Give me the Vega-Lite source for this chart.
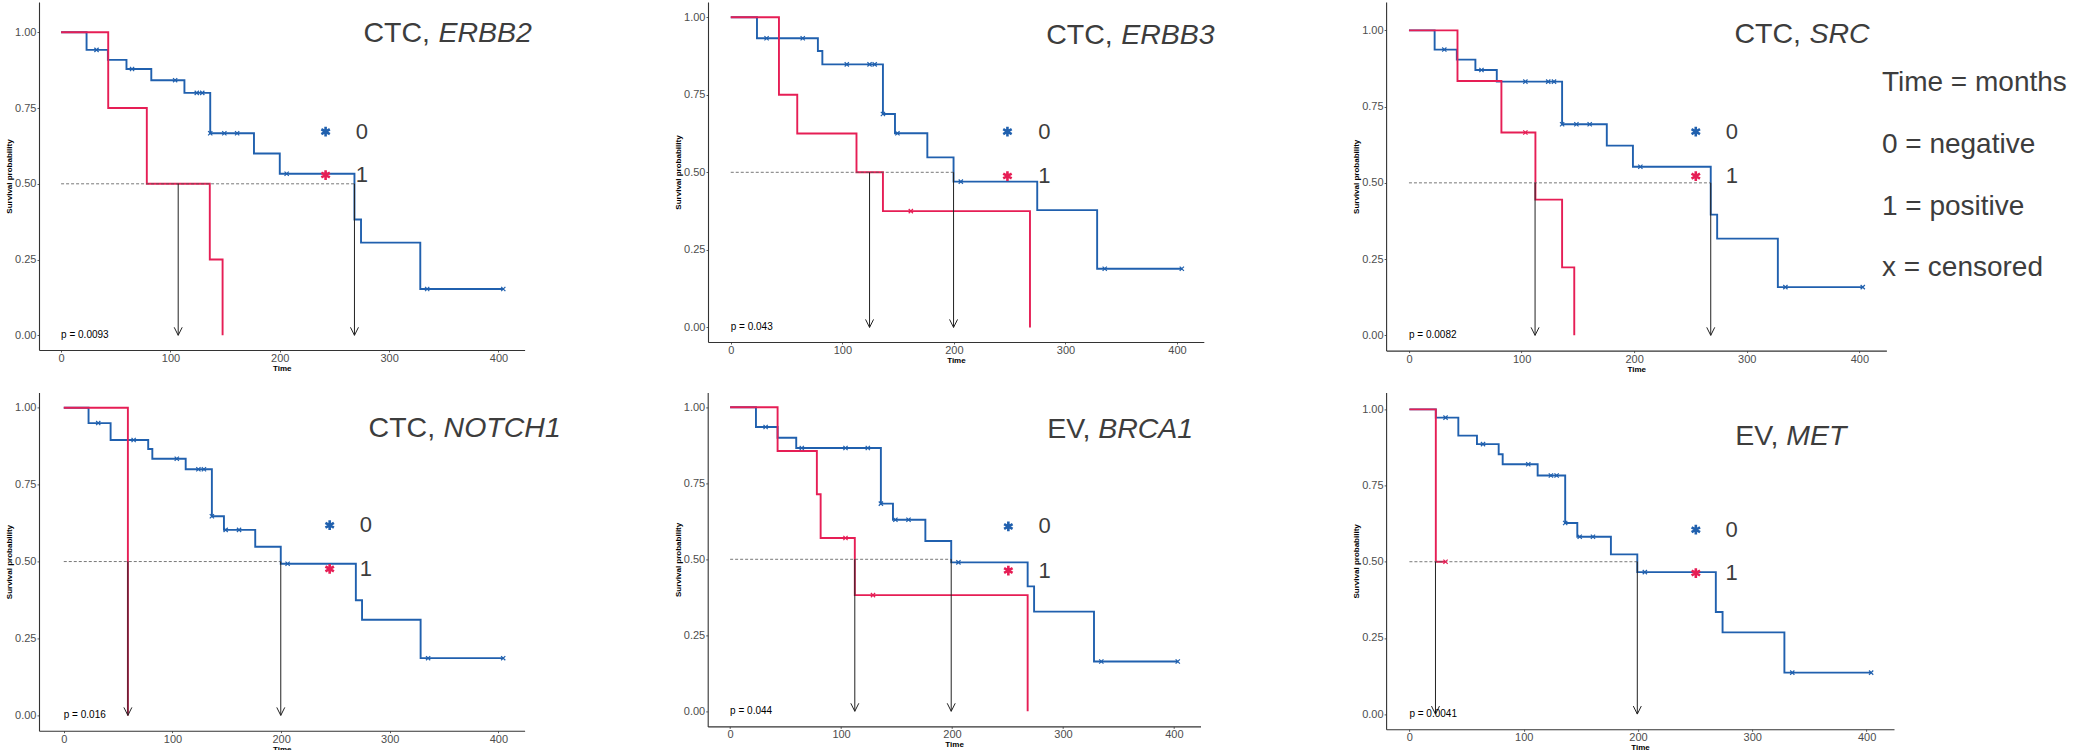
{
  "$schema": "https://vega.github.io/schema/vega-lite/v6.json",
  "autosize": {"type": "pad"},
  "padding": {"left": 5, "top": 2, "right": 0, "bottom": 0},
  "background": "white",
  "config": {
    "view": {"stroke": null},
    "font": "Liberation Sans",
    "axis": {"grid": false, "domainColor": "#333333", "domainWidth": 1.1, "tickColor": "#333333", "tickSize": 2, "tickWidth": 0.8, "labelColor": "#4d4d4d", "labelFont": "Liberation Sans", "labelFontSize": 11, "labelPadding": 1, "titleFont": "Liberation Sans", "titleFontSize": 8, "titleFontWeight": "bold", "titleColor": "#000000", "titlePadding": 1},
    "axisX": {"labelPadding": 0.5},
    "text": {"font": "Liberation Sans"}
  },
  "datasets": {
    "km": [
      {"p":"ERBB2","g":"0","t":0,"s":1},{"p":"ERBB2","g":"0","t":23.3,"s":0.942},{"p":"ERBB2","g":"0","t":42.8,"s":0.909},{"p":"ERBB2","g":"0","t":59.8,"s":0.879},{"p":"ERBB2","g":"0","t":82.5,"s":0.842},{"p":"ERBB2","g":"0","t":112.8,"s":0.8},{"p":"ERBB2","g":"0","t":136.4,"s":0.667},{"p":"ERBB2","g":"0","t":176.4,"s":0.6},{"p":"ERBB2","g":"0","t":200,"s":0.533},{"p":"ERBB2","g":"0","t":268.3,"s":0.382},{"p":"ERBB2","g":"0","t":274.3,"s":0.306},{"p":"ERBB2","g":"0","t":328.5,"s":0.153},{"p":"ERBB2","g":"0","t":404.4,"s":0.153},
      {"p":"ERBB2","g":"1","t":0,"s":1},{"p":"ERBB2","g":"1","t":43.1,"s":0.75},{"p":"ERBB2","g":"1","t":78.4,"s":0.5},{"p":"ERBB2","g":"1","t":136,"s":0.25},{"p":"ERBB2","g":"1","t":147.7,"s":0},
      {"p":"ERBB3","g":"0","t":0,"s":1},{"p":"ERBB3","g":"0","t":23.5,"s":0.932},{"p":"ERBB3","g":"0","t":78.1,"s":0.891},{"p":"ERBB3","g":"0","t":82.1,"s":0.848},{"p":"ERBB3","g":"0","t":136.4,"s":0.688},{"p":"ERBB3","g":"0","t":147.2,"s":0.626},{"p":"ERBB3","g":"0","t":176.2,"s":0.548},{"p":"ERBB3","g":"0","t":199.7,"s":0.47},{"p":"ERBB3","g":"0","t":274.7,"s":0.378},{"p":"ERBB3","g":"0","t":328.4,"s":0.189},{"p":"ERBB3","g":"0","t":404.3,"s":0.189},
      {"p":"ERBB3","g":"1","t":0,"s":1},{"p":"ERBB3","g":"1","t":43.2,"s":0.75},{"p":"ERBB3","g":"1","t":59.6,"s":0.625},{"p":"ERBB3","g":"1","t":112.7,"s":0.5},{"p":"ERBB3","g":"1","t":136.4,"s":0.375},{"p":"ERBB3","g":"1","t":268.2,"s":0},
      {"p":"SRC","g":"0","t":0,"s":1},{"p":"SRC","g":"0","t":22.8,"s":0.937},{"p":"SRC","g":"0","t":42.5,"s":0.904},{"p":"SRC","g":"0","t":59,"s":0.87},{"p":"SRC","g":"0","t":78,"s":0.832},{"p":"SRC","g":"0","t":136,"s":0.692},{"p":"SRC","g":"0","t":175.7,"s":0.622},{"p":"SRC","g":"0","t":198.9,"s":0.553},{"p":"SRC","g":"0","t":268,"s":0.396},{"p":"SRC","g":"0","t":273.7,"s":0.317},{"p":"SRC","g":"0","t":327.6,"s":0.158},{"p":"SRC","g":"0","t":403,"s":0.158},
      {"p":"SRC","g":"1","t":0,"s":1},{"p":"SRC","g":"1","t":43.1,"s":0.834},{"p":"SRC","g":"1","t":82.1,"s":0.665},{"p":"SRC","g":"1","t":112.3,"s":0.445},{"p":"SRC","g":"1","t":136,"s":0.223},{"p":"SRC","g":"1","t":146.8,"s":0},
      {"p":"NOTCH1","g":"0","t":0,"s":1},{"p":"NOTCH1","g":"0","t":22.8,"s":0.95},{"p":"NOTCH1","g":"0","t":43.1,"s":0.895},{"p":"NOTCH1","g":"0","t":77.7,"s":0.866},{"p":"NOTCH1","g":"0","t":81.5,"s":0.834},{"p":"NOTCH1","g":"0","t":112.2,"s":0.8},{"p":"NOTCH1","g":"0","t":136.3,"s":0.647},{"p":"NOTCH1","g":"0","t":147.4,"s":0.603},{"p":"NOTCH1","g":"0","t":176.2,"s":0.548},{"p":"NOTCH1","g":"0","t":199.7,"s":0.493},{"p":"NOTCH1","g":"0","t":268.8,"s":0.374},{"p":"NOTCH1","g":"0","t":274.5,"s":0.311},{"p":"NOTCH1","g":"0","t":328.4,"s":0.186},{"p":"NOTCH1","g":"0","t":404.4,"s":0.186},
      {"p":"NOTCH1","g":"1","t":0,"s":1},{"p":"NOTCH1","g":"1","t":59,"s":0},
      {"p":"BRCA1","g":"0","t":0,"s":1},{"p":"BRCA1","g":"0","t":23.3,"s":0.935},{"p":"BRCA1","g":"0","t":42.8,"s":0.9},{"p":"BRCA1","g":"0","t":59.6,"s":0.866},{"p":"BRCA1","g":"0","t":135.9,"s":0.683},{"p":"BRCA1","g":"0","t":146.8,"s":0.63},{"p":"BRCA1","g":"0","t":176,"s":0.56},{"p":"BRCA1","g":"0","t":199.3,"s":0.49},{"p":"BRCA1","g":"0","t":268.2,"s":0.411},{"p":"BRCA1","g":"0","t":274,"s":0.328},{"p":"BRCA1","g":"0","t":328,"s":0.164},{"p":"BRCA1","g":"0","t":403.5,"s":0.164},
      {"p":"BRCA1","g":"1","t":0,"s":1},{"p":"BRCA1","g":"1","t":42.8,"s":0.856},{"p":"BRCA1","g":"1","t":78.2,"s":0.714},{"p":"BRCA1","g":"1","t":81.6,"s":0.57},{"p":"BRCA1","g":"1","t":112.4,"s":0.382},{"p":"BRCA1","g":"1","t":268.2,"s":0},
      {"p":"MET","g":"0","t":0,"s":1},{"p":"MET","g":"0","t":23.1,"s":0.973},{"p":"MET","g":"0","t":42.8,"s":0.914},{"p":"MET","g":"0","t":59.1,"s":0.886},{"p":"MET","g":"0","t":78.1,"s":0.853},{"p":"MET","g":"0","t":81.6,"s":0.82},{"p":"MET","g":"0","t":112.2,"s":0.783},{"p":"MET","g":"0","t":136.3,"s":0.627},{"p":"MET","g":"0","t":146.9,"s":0.582},{"p":"MET","g":"0","t":176.3,"s":0.524},{"p":"MET","g":"0","t":199.4,"s":0.466},{"p":"MET","g":"0","t":268.1,"s":0.335},{"p":"MET","g":"0","t":274,"s":0.268},{"p":"MET","g":"0","t":328.1,"s":0.136},{"p":"MET","g":"0","t":404,"s":0.136},
      {"p":"MET","g":"1","t":0,"s":1},{"p":"MET","g":"1","t":23.1,"s":0.5},{"p":"MET","g":"1","t":31.6,"s":0.5}
    ],
    "cens": [
      {"p":"ERBB2","g":"0","t":32.4,"s":0.942},{"p":"ERBB2","g":"0","t":64.9,"s":0.879},{"p":"ERBB2","g":"0","t":104.3,"s":0.842},{"p":"ERBB2","g":"0","t":124.1,"s":0.8},{"p":"ERBB2","g":"0","t":129.1,"s":0.8},{"p":"ERBB2","g":"0","t":136.4,"s":0.667},{"p":"ERBB2","g":"0","t":149.3,"s":0.667},{"p":"ERBB2","g":"0","t":161,"s":0.667},{"p":"ERBB2","g":"0","t":206.3,"s":0.533},{"p":"ERBB2","g":"0","t":334.8,"s":0.153},{"p":"ERBB2","g":"0","t":404.4,"s":0.153},
      {"p":"ERBB3","g":"0","t":32.1,"s":0.932},{"p":"ERBB3","g":"0","t":64.5,"s":0.932},{"p":"ERBB3","g":"0","t":104,"s":0.848},{"p":"ERBB3","g":"0","t":124.4,"s":0.848},{"p":"ERBB3","g":"0","t":129,"s":0.848},{"p":"ERBB3","g":"0","t":136.4,"s":0.688},{"p":"ERBB3","g":"0","t":149.4,"s":0.626},{"p":"ERBB3","g":"0","t":206.2,"s":0.47},{"p":"ERBB3","g":"0","t":335.2,"s":0.189},{"p":"ERBB3","g":"0","t":404.3,"s":0.189},{"p":"ERBB3","g":"1","t":161.4,"s":0.375},
      {"p":"SRC","g":"0","t":31.4,"s":0.937},{"p":"SRC","g":"0","t":64.4,"s":0.87},{"p":"SRC","g":"0","t":103.4,"s":0.832},{"p":"SRC","g":"0","t":123.7,"s":0.832},{"p":"SRC","g":"0","t":128.8,"s":0.832},{"p":"SRC","g":"0","t":136,"s":0.692},{"p":"SRC","g":"0","t":148.7,"s":0.692},{"p":"SRC","g":"0","t":160.5,"s":0.692},{"p":"SRC","g":"0","t":205.5,"s":0.553},{"p":"SRC","g":"0","t":334.3,"s":0.158},{"p":"SRC","g":"0","t":403,"s":0.158},{"p":"SRC","g":"1","t":103.4,"s":0.665},
      {"p":"NOTCH1","g":"0","t":31.7,"s":0.95},{"p":"NOTCH1","g":"0","t":64.3,"s":0.895},{"p":"NOTCH1","g":"0","t":104,"s":0.834},{"p":"NOTCH1","g":"0","t":123.9,"s":0.8},{"p":"NOTCH1","g":"0","t":129,"s":0.8},{"p":"NOTCH1","g":"0","t":136.3,"s":0.647},{"p":"NOTCH1","g":"0","t":149,"s":0.603},{"p":"NOTCH1","g":"0","t":161.3,"s":0.603},{"p":"NOTCH1","g":"0","t":206,"s":0.493},{"p":"NOTCH1","g":"0","t":335.3,"s":0.186},{"p":"NOTCH1","g":"0","t":404.4,"s":0.186},
      {"p":"BRCA1","g":"0","t":32,"s":0.935},{"p":"BRCA1","g":"0","t":64.6,"s":0.866},{"p":"BRCA1","g":"0","t":104,"s":0.866},{"p":"BRCA1","g":"0","t":124.1,"s":0.866},{"p":"BRCA1","g":"0","t":135.9,"s":0.683},{"p":"BRCA1","g":"0","t":149,"s":0.63},{"p":"BRCA1","g":"0","t":160.8,"s":0.63},{"p":"BRCA1","g":"0","t":205.8,"s":0.49},{"p":"BRCA1","g":"0","t":334.6,"s":0.164},{"p":"BRCA1","g":"0","t":403.5,"s":0.164},{"p":"BRCA1","g":"1","t":104,"s":0.57},{"p":"BRCA1","g":"1","t":128.8,"s":0.382},
      {"p":"MET","g":"0","t":31.6,"s":0.973},{"p":"MET","g":"0","t":64.4,"s":0.886},{"p":"MET","g":"0","t":104,"s":0.82},{"p":"MET","g":"0","t":123.8,"s":0.783},{"p":"MET","g":"0","t":128.8,"s":0.783},{"p":"MET","g":"0","t":136.3,"s":0.627},{"p":"MET","g":"0","t":149,"s":0.582},{"p":"MET","g":"0","t":160.6,"s":0.582},{"p":"MET","g":"0","t":206,"s":0.466},{"p":"MET","g":"0","t":335,"s":0.136},{"p":"MET","g":"0","t":404,"s":0.136},{"p":"MET","g":"1","t":31.6,"s":0.5}
    ],
    "med": [
      {"p":"ERBB2","g":"1","t0":0,"t":107.1,"s":0.5,"s0":0},{"p":"ERBB2","g":"0","t0":0,"t":268.3,"s":0.5,"s0":0},
      {"p":"ERBB3","g":"1","t0":0,"t":124.4,"s":0.5,"s0":0},{"p":"ERBB3","g":"0","t0":0,"t":199.7,"s":0.5,"s0":0},
      {"p":"SRC","g":"1","t0":0,"t":112,"s":0.5,"s0":0},{"p":"SRC","g":"0","t0":0,"t":268,"s":0.5,"s0":0},
      {"p":"NOTCH1","g":"1","t0":0,"t":59,"s":0.5,"s0":0},{"p":"NOTCH1","g":"0","t0":0,"t":199.7,"s":0.5,"s0":0},
      {"p":"BRCA1","g":"1","t0":0,"t":112.4,"s":0.5,"s0":0},{"p":"BRCA1","g":"0","t0":0,"t":199.3,"s":0.5,"s0":0},
      {"p":"MET","g":"1","t0":0,"t":22.8,"s":0.5,"s0":0},{"p":"MET","g":"0","t0":0,"t":199.4,"s":0.5,"s0":0}
    ],
    "leg": [
      {"p":"ERBB2","g":"0","t":241.9,"lt":275,"s":0.672},{"p":"ERBB2","g":"1","t":241.9,"lt":275,"s":0.529},
      {"p":"ERBB3","g":"0","t":248,"lt":281,"s":0.631},{"p":"ERBB3","g":"1","t":248,"lt":281,"s":0.488},
      {"p":"SRC","g":"0","t":254.7,"lt":286.7,"s":0.668},{"p":"SRC","g":"1","t":254.7,"lt":286.7,"s":0.522},
      {"p":"NOTCH1","g":"0","t":244.7,"lt":278,"s":0.618},{"p":"NOTCH1","g":"1","t":244.7,"lt":278,"s":0.476},
      {"p":"BRCA1","g":"0","t":250.8,"lt":283.4,"s":0.608},{"p":"BRCA1","g":"1","t":250.8,"lt":283.4,"s":0.463},
      {"p":"MET","g":"0","t":250.6,"lt":282,"s":0.605},{"p":"MET","g":"1","t":250.6,"lt":282,"s":0.463}
    ],
    "info": [
      {"p":"ERBB2","prefix":"CTC,","gene":"ERBB2","t":276.5,"s":0.997,"pt":0,"ps":0,"pval":"p = 0.0093"},
      {"p":"ERBB3","prefix":"CTC,","gene":"ERBB3","t":282.7,"s":0.943,"pt":0,"ps":0,"pval":"p = 0.043"},
      {"p":"SRC","prefix":"CTC,","gene":"SRC","t":289,"s":0.987,"pt":0,"ps":0,"pval":"p = 0.0082"},
      {"p":"NOTCH1","prefix":"CTC,","gene":"NOTCH1","t":280.5,"s":0.934,"pt":0,"ps":0,"pval":"p = 0.016"},
      {"p":"BRCA1","prefix":"EV,","gene":"BRCA1","t":285.8,"s":0.929,"pt":0,"ps":0,"pval":"p = 0.044"},
      {"p":"MET","prefix":"EV,","gene":"MET","t":285,"s":0.914,"pt":0,"ps":0,"pval":"p = 0.0041"}
    ],
    "notes": [
      {"p":"SRC","line":"Time = months","t":420,"s":0.828},
      {"p":"SRC","line":"0 = negative","t":420,"s":0.624},
      {"p":"SRC","line":"1 = positive","t":420,"s":0.422},
      {"p":"SRC","line":"x = censored","t":420,"s":0.221}
    ]
  },
  "spacing": 18.4,
  "bounds": "full",
  "vconcat": [
    {
      "spacing": 183,
      "bounds": "flush",
      "hconcat": [
        {
          "width": 485.6, "height": 348,
          "layer": [
            {"data": {"name": "km"}, "transform": [{"filter": "datum.p == 'ERBB2'"}], "mark": {"type": "line", "interpolate": "step-after", "strokeWidth": 1.9}, "encoding": {"x": {"field": "t", "type": "quantitative", "title": "Time", "scale": {"domain": [-20.2, 423.9], "nice": false, "zero": false}, "axis": {"values": [0, 100, 200, 300, 400], "format": "d"}}, "y": {"field": "s", "type": "quantitative", "title": "Survival probability", "scale": {"domain": [-0.0485, 1.1], "nice": false, "zero": false}, "axis": {"values": [0, 0.25, 0.5, 0.75, 1], "format": ".2f"}}, "color": {"field": "g", "type": "nominal", "scale": {"domain": ["0", "1"], "range": ["#2060AE", "#E61E55"]}, "legend": null}}},
            {"data": {"name": "med"}, "transform": [{"filter": "datum.p == 'ERBB2' && datum.g == '0'"}], "mark": {"type": "rule", "color": "#555555", "strokeWidth": 0.8, "strokeDash": [3, 2]}, "encoding": {"x": {"field": "t0", "type": "quantitative", "title": "Time"}, "x2": {"field": "t"}, "y": {"field": "s", "type": "quantitative", "title": "Survival probability"}}},
            {"data": {"name": "cens"}, "transform": [{"filter": "datum.p == 'ERBB2'"}], "mark": {"type": "point", "shape": "M-1,-1L1,1M-1,1L1,-1", "size": 18, "strokeWidth": 1.2, "filled": false, "opacity": 1}, "encoding": {"x": {"field": "t", "type": "quantitative", "title": "Time"}, "y": {"field": "s", "type": "quantitative", "title": "Survival probability"}, "color": {"field": "g", "type": "nominal", "legend": null}}},
            {"data": {"name": "med"}, "transform": [{"filter": "datum.p == 'ERBB2'"}], "mark": {"type": "rule", "color": "#222222", "strokeWidth": 1}, "encoding": {"x": {"field": "t", "type": "quantitative", "title": "Time"}, "y": {"field": "s", "type": "quantitative", "title": "Survival probability"}, "y2": {"field": "s0"}}},
            {"data": {"name": "med"}, "transform": [{"filter": "datum.p == 'ERBB2'"}], "mark": {"type": "point", "shape": "M-1,-2L0,0L1,-2", "size": 64, "strokeWidth": 1, "filled": false, "opacity": 1, "color": "#222222"}, "encoding": {"x": {"field": "t", "type": "quantitative", "title": "Time"}, "y": {"field": "s0", "type": "quantitative", "title": "Survival probability"}}},
            {"data": {"name": "leg"}, "transform": [{"filter": "datum.p == 'ERBB2'"}], "mark": {"type": "point", "shape": "M0,-1L0,1M-0.87,-0.5L0.87,0.5M-0.87,0.5L0.87,-0.5", "size": 95, "strokeWidth": 2.6, "filled": false, "opacity": 1}, "encoding": {"x": {"field": "t", "type": "quantitative", "title": "Time"}, "y": {"field": "s", "type": "quantitative", "title": "Survival probability"}, "color": {"field": "g", "type": "nominal", "legend": null}}},
            {"data": {"name": "leg"}, "transform": [{"filter": "datum.p == 'ERBB2'"}], "mark": {"type": "text", "fontSize": 22, "color": "#3d3d3d", "align": "center", "baseline": "middle"}, "encoding": {"x": {"field": "lt", "type": "quantitative", "title": "Time"}, "y": {"field": "s", "type": "quantitative", "title": "Survival probability"}, "text": {"field": "g"}}},
            {"data": {"name": "info"}, "transform": [{"filter": "datum.p == 'ERBB2'"}], "mark": {"type": "text", "fontSize": 28.5, "color": "#3d3d3d", "align": "left", "baseline": "middle"}, "encoding": {"x": {"field": "t", "type": "quantitative", "title": "Time"}, "y": {"field": "s", "type": "quantitative", "title": "Survival probability"}, "text": {"field": "prefix"}}},
            {"data": {"name": "info"}, "transform": [{"filter": "datum.p == 'ERBB2'"}], "mark": {"type": "text", "fontSize": 28.5, "fontStyle": "italic", "color": "#3d3d3d", "align": "left", "baseline": "middle", "dx": 75}, "encoding": {"x": {"field": "t", "type": "quantitative", "title": "Time"}, "y": {"field": "s", "type": "quantitative", "title": "Survival probability"}, "text": {"field": "gene"}}},
            {"data": {"name": "info"}, "transform": [{"filter": "datum.p == 'ERBB2'"}], "mark": {"type": "text", "fontSize": 10, "color": "#000000", "align": "left", "baseline": "middle"}, "encoding": {"x": {"field": "pt", "type": "quantitative", "title": "Time"}, "y": {"field": "ps", "type": "quantitative", "title": "Survival probability"}, "text": {"field": "pval"}}}
          ]
        },
        {
          "spacing": 182.1,
          "bounds": "flush",
          "hconcat": [
            {
              "width": 495.8, "height": 340,
              "layer": [
                {"data": {"name": "km"}, "transform": [{"filter": "datum.p == 'ERBB3'"}], "mark": {"type": "line", "interpolate": "step-after", "strokeWidth": 1.9}, "encoding": {"x": {"field": "t", "type": "quantitative", "title": "Time", "scale": {"domain": [-20.4, 424], "nice": false, "zero": false}, "axis": {"values": [0, 100, 200, 300, 400], "format": "d"}}, "y": {"field": "s", "type": "quantitative", "title": "Survival probability", "scale": {"domain": [-0.047, 1.049], "nice": false, "zero": false}, "axis": {"values": [0, 0.25, 0.5, 0.75, 1], "format": ".2f"}}, "color": {"field": "g", "type": "nominal", "scale": {"domain": ["0", "1"], "range": ["#2060AE", "#E61E55"]}, "legend": null}}},
                {"data": {"name": "med"}, "transform": [{"filter": "datum.p == 'ERBB3' && datum.g == '0'"}], "mark": {"type": "rule", "color": "#555555", "strokeWidth": 0.8, "strokeDash": [3, 2]}, "encoding": {"x": {"field": "t0", "type": "quantitative", "title": "Time"}, "x2": {"field": "t"}, "y": {"field": "s", "type": "quantitative", "title": "Survival probability"}}},
                {"data": {"name": "cens"}, "transform": [{"filter": "datum.p == 'ERBB3'"}], "mark": {"type": "point", "shape": "M-1,-1L1,1M-1,1L1,-1", "size": 18, "strokeWidth": 1.2, "filled": false, "opacity": 1}, "encoding": {"x": {"field": "t", "type": "quantitative", "title": "Time"}, "y": {"field": "s", "type": "quantitative", "title": "Survival probability"}, "color": {"field": "g", "type": "nominal", "legend": null}}},
                {"data": {"name": "med"}, "transform": [{"filter": "datum.p == 'ERBB3'"}], "mark": {"type": "rule", "color": "#222222", "strokeWidth": 1}, "encoding": {"x": {"field": "t", "type": "quantitative", "title": "Time"}, "y": {"field": "s", "type": "quantitative", "title": "Survival probability"}, "y2": {"field": "s0"}}},
                {"data": {"name": "med"}, "transform": [{"filter": "datum.p == 'ERBB3'"}], "mark": {"type": "point", "shape": "M-1,-2L0,0L1,-2", "size": 64, "strokeWidth": 1, "filled": false, "opacity": 1, "color": "#222222"}, "encoding": {"x": {"field": "t", "type": "quantitative", "title": "Time"}, "y": {"field": "s0", "type": "quantitative", "title": "Survival probability"}}},
                {"data": {"name": "leg"}, "transform": [{"filter": "datum.p == 'ERBB3'"}], "mark": {"type": "point", "shape": "M0,-1L0,1M-0.87,-0.5L0.87,0.5M-0.87,0.5L0.87,-0.5", "size": 95, "strokeWidth": 2.6, "filled": false, "opacity": 1}, "encoding": {"x": {"field": "t", "type": "quantitative", "title": "Time"}, "y": {"field": "s", "type": "quantitative", "title": "Survival probability"}, "color": {"field": "g", "type": "nominal", "legend": null}}},
                {"data": {"name": "leg"}, "transform": [{"filter": "datum.p == 'ERBB3'"}], "mark": {"type": "text", "fontSize": 22, "color": "#3d3d3d", "align": "center", "baseline": "middle"}, "encoding": {"x": {"field": "lt", "type": "quantitative", "title": "Time"}, "y": {"field": "s", "type": "quantitative", "title": "Survival probability"}, "text": {"field": "g"}}},
                {"data": {"name": "info"}, "transform": [{"filter": "datum.p == 'ERBB3'"}], "mark": {"type": "text", "fontSize": 28.5, "color": "#3d3d3d", "align": "left", "baseline": "middle"}, "encoding": {"x": {"field": "t", "type": "quantitative", "title": "Time"}, "y": {"field": "s", "type": "quantitative", "title": "Survival probability"}, "text": {"field": "prefix"}}},
                {"data": {"name": "info"}, "transform": [{"filter": "datum.p == 'ERBB3'"}], "mark": {"type": "text", "fontSize": 28.5, "fontStyle": "italic", "color": "#3d3d3d", "align": "left", "baseline": "middle", "dx": 75}, "encoding": {"x": {"field": "t", "type": "quantitative", "title": "Time"}, "y": {"field": "s", "type": "quantitative", "title": "Survival probability"}, "text": {"field": "gene"}}},
                {"data": {"name": "info"}, "transform": [{"filter": "datum.p == 'ERBB3'"}], "mark": {"type": "text", "fontSize": 10, "color": "#000000", "align": "left", "baseline": "middle"}, "encoding": {"x": {"field": "pt", "type": "quantitative", "title": "Time"}, "y": {"field": "ps", "type": "quantitative", "title": "Survival probability"}, "text": {"field": "pval"}}}
              ]
            },
            {
              "width": 500.3, "height": 348.6,
              "layer": [
                {"data": {"name": "km"}, "transform": [{"filter": "datum.p == 'SRC'"}], "mark": {"type": "line", "interpolate": "step-after", "strokeWidth": 1.9}, "encoding": {"x": {"field": "t", "type": "quantitative", "title": "Time", "scale": {"domain": [-20.3, 424], "nice": false, "zero": false}, "axis": {"values": [0, 100, 200, 300, 400], "format": "d"}}, "y": {"field": "s", "type": "quantitative", "title": "Survival probability", "scale": {"domain": [-0.05, 1.093], "nice": false, "zero": false}, "axis": {"values": [0, 0.25, 0.5, 0.75, 1], "format": ".2f"}}, "color": {"field": "g", "type": "nominal", "scale": {"domain": ["0", "1"], "range": ["#2060AE", "#E61E55"]}, "legend": null}}},
                {"data": {"name": "med"}, "transform": [{"filter": "datum.p == 'SRC' && datum.g == '0'"}], "mark": {"type": "rule", "color": "#555555", "strokeWidth": 0.8, "strokeDash": [3, 2]}, "encoding": {"x": {"field": "t0", "type": "quantitative", "title": "Time"}, "x2": {"field": "t"}, "y": {"field": "s", "type": "quantitative", "title": "Survival probability"}}},
                {"data": {"name": "cens"}, "transform": [{"filter": "datum.p == 'SRC'"}], "mark": {"type": "point", "shape": "M-1,-1L1,1M-1,1L1,-1", "size": 18, "strokeWidth": 1.2, "filled": false, "opacity": 1}, "encoding": {"x": {"field": "t", "type": "quantitative", "title": "Time"}, "y": {"field": "s", "type": "quantitative", "title": "Survival probability"}, "color": {"field": "g", "type": "nominal", "legend": null}}},
                {"data": {"name": "med"}, "transform": [{"filter": "datum.p == 'SRC'"}], "mark": {"type": "rule", "color": "#222222", "strokeWidth": 1}, "encoding": {"x": {"field": "t", "type": "quantitative", "title": "Time"}, "y": {"field": "s", "type": "quantitative", "title": "Survival probability"}, "y2": {"field": "s0"}}},
                {"data": {"name": "med"}, "transform": [{"filter": "datum.p == 'SRC'"}], "mark": {"type": "point", "shape": "M-1,-2L0,0L1,-2", "size": 64, "strokeWidth": 1, "filled": false, "opacity": 1, "color": "#222222"}, "encoding": {"x": {"field": "t", "type": "quantitative", "title": "Time"}, "y": {"field": "s0", "type": "quantitative", "title": "Survival probability"}}},
                {"data": {"name": "leg"}, "transform": [{"filter": "datum.p == 'SRC'"}], "mark": {"type": "point", "shape": "M0,-1L0,1M-0.87,-0.5L0.87,0.5M-0.87,0.5L0.87,-0.5", "size": 95, "strokeWidth": 2.6, "filled": false, "opacity": 1}, "encoding": {"x": {"field": "t", "type": "quantitative", "title": "Time"}, "y": {"field": "s", "type": "quantitative", "title": "Survival probability"}, "color": {"field": "g", "type": "nominal", "legend": null}}},
                {"data": {"name": "leg"}, "transform": [{"filter": "datum.p == 'SRC'"}], "mark": {"type": "text", "fontSize": 22, "color": "#3d3d3d", "align": "center", "baseline": "middle"}, "encoding": {"x": {"field": "lt", "type": "quantitative", "title": "Time"}, "y": {"field": "s", "type": "quantitative", "title": "Survival probability"}, "text": {"field": "g"}}},
                {"data": {"name": "info"}, "transform": [{"filter": "datum.p == 'SRC'"}], "mark": {"type": "text", "fontSize": 28.5, "color": "#3d3d3d", "align": "left", "baseline": "middle"}, "encoding": {"x": {"field": "t", "type": "quantitative", "title": "Time"}, "y": {"field": "s", "type": "quantitative", "title": "Survival probability"}, "text": {"field": "prefix"}}},
                {"data": {"name": "info"}, "transform": [{"filter": "datum.p == 'SRC'"}], "mark": {"type": "text", "fontSize": 28.5, "fontStyle": "italic", "color": "#3d3d3d", "align": "left", "baseline": "middle", "dx": 75}, "encoding": {"x": {"field": "t", "type": "quantitative", "title": "Time"}, "y": {"field": "s", "type": "quantitative", "title": "Survival probability"}, "text": {"field": "gene"}}},
                {"data": {"name": "info"}, "transform": [{"filter": "datum.p == 'SRC'"}], "mark": {"type": "text", "fontSize": 10, "color": "#000000", "align": "left", "baseline": "middle"}, "encoding": {"x": {"field": "pt", "type": "quantitative", "title": "Time"}, "y": {"field": "ps", "type": "quantitative", "title": "Survival probability"}, "text": {"field": "pval"}}},
                {"data": {"name": "notes"}, "mark": {"type": "text", "fontSize": 28, "color": "#3d3d3d", "align": "left", "baseline": "middle"}, "encoding": {"x": {"field": "t", "type": "quantitative", "title": "Time"}, "y": {"field": "s", "type": "quantitative", "title": "Survival probability"}, "text": {"field": "line"}}}
              ]
            }
          ]
        }
      ]
    },
    {
      "spacing": 182.7,
      "bounds": "flush",
      "hconcat": [
        {
          "width": 485.6, "height": 338.3,
          "layer": [
            {"data": {"name": "km"}, "transform": [{"filter": "datum.p == 'NOTCH1'"}], "mark": {"type": "line", "interpolate": "step-after", "strokeWidth": 1.9}, "encoding": {"x": {"field": "t", "type": "quantitative", "title": "Time", "scale": {"domain": [-22.8, 424.1], "nice": false, "zero": false}, "axis": {"values": [0, 100, 200, 300, 400], "format": "d"}}, "y": {"field": "s", "type": "quantitative", "title": "Survival probability", "scale": {"domain": [-0.0497, 1.0497], "nice": false, "zero": false}, "axis": {"values": [0, 0.25, 0.5, 0.75, 1], "format": ".2f"}}, "color": {"field": "g", "type": "nominal", "scale": {"domain": ["0", "1"], "range": ["#2060AE", "#E61E55"]}, "legend": null}}},
            {"data": {"name": "med"}, "transform": [{"filter": "datum.p == 'NOTCH1' && datum.g == '0'"}], "mark": {"type": "rule", "color": "#555555", "strokeWidth": 0.8, "strokeDash": [3, 2]}, "encoding": {"x": {"field": "t0", "type": "quantitative", "title": "Time"}, "x2": {"field": "t"}, "y": {"field": "s", "type": "quantitative", "title": "Survival probability"}}},
            {"data": {"name": "cens"}, "transform": [{"filter": "datum.p == 'NOTCH1'"}], "mark": {"type": "point", "shape": "M-1,-1L1,1M-1,1L1,-1", "size": 18, "strokeWidth": 1.2, "filled": false, "opacity": 1}, "encoding": {"x": {"field": "t", "type": "quantitative", "title": "Time"}, "y": {"field": "s", "type": "quantitative", "title": "Survival probability"}, "color": {"field": "g", "type": "nominal", "legend": null}}},
            {"data": {"name": "med"}, "transform": [{"filter": "datum.p == 'NOTCH1'"}], "mark": {"type": "rule", "color": "#222222", "strokeWidth": 1}, "encoding": {"x": {"field": "t", "type": "quantitative", "title": "Time"}, "y": {"field": "s", "type": "quantitative", "title": "Survival probability"}, "y2": {"field": "s0"}}},
            {"data": {"name": "med"}, "transform": [{"filter": "datum.p == 'NOTCH1'"}], "mark": {"type": "point", "shape": "M-1,-2L0,0L1,-2", "size": 64, "strokeWidth": 1, "filled": false, "opacity": 1, "color": "#222222"}, "encoding": {"x": {"field": "t", "type": "quantitative", "title": "Time"}, "y": {"field": "s0", "type": "quantitative", "title": "Survival probability"}}},
            {"data": {"name": "leg"}, "transform": [{"filter": "datum.p == 'NOTCH1'"}], "mark": {"type": "point", "shape": "M0,-1L0,1M-0.87,-0.5L0.87,0.5M-0.87,0.5L0.87,-0.5", "size": 95, "strokeWidth": 2.6, "filled": false, "opacity": 1}, "encoding": {"x": {"field": "t", "type": "quantitative", "title": "Time"}, "y": {"field": "s", "type": "quantitative", "title": "Survival probability"}, "color": {"field": "g", "type": "nominal", "legend": null}}},
            {"data": {"name": "leg"}, "transform": [{"filter": "datum.p == 'NOTCH1'"}], "mark": {"type": "text", "fontSize": 22, "color": "#3d3d3d", "align": "center", "baseline": "middle"}, "encoding": {"x": {"field": "lt", "type": "quantitative", "title": "Time"}, "y": {"field": "s", "type": "quantitative", "title": "Survival probability"}, "text": {"field": "g"}}},
            {"data": {"name": "info"}, "transform": [{"filter": "datum.p == 'NOTCH1'"}], "mark": {"type": "text", "fontSize": 28.5, "color": "#3d3d3d", "align": "left", "baseline": "middle"}, "encoding": {"x": {"field": "t", "type": "quantitative", "title": "Time"}, "y": {"field": "s", "type": "quantitative", "title": "Survival probability"}, "text": {"field": "prefix"}}},
            {"data": {"name": "info"}, "transform": [{"filter": "datum.p == 'NOTCH1'"}], "mark": {"type": "text", "fontSize": 28.5, "fontStyle": "italic", "color": "#3d3d3d", "align": "left", "baseline": "middle", "dx": 75}, "encoding": {"x": {"field": "t", "type": "quantitative", "title": "Time"}, "y": {"field": "s", "type": "quantitative", "title": "Survival probability"}, "text": {"field": "gene"}}},
            {"data": {"name": "info"}, "transform": [{"filter": "datum.p == 'NOTCH1'"}], "mark": {"type": "text", "fontSize": 10, "color": "#000000", "align": "left", "baseline": "middle"}, "encoding": {"x": {"field": "pt", "type": "quantitative", "title": "Time"}, "y": {"field": "ps", "type": "quantitative", "title": "Survival probability"}, "text": {"field": "pval"}}}
          ]
        },
        {
          "spacing": 185.4,
          "bounds": "flush",
          "hconcat": [
            {
              "width": 492.8, "height": 334,
              "layer": [
                {"data": {"name": "km"}, "transform": [{"filter": "datum.p == 'BRCA1'"}], "mark": {"type": "line", "interpolate": "step-after", "strokeWidth": 1.9}, "encoding": {"x": {"field": "t", "type": "quantitative", "title": "Time", "scale": {"domain": [-20.2, 424], "nice": false, "zero": false}, "axis": {"values": [0, 100, 200, 300, 400], "format": "d"}}, "y": {"field": "s", "type": "quantitative", "title": "Survival probability", "scale": {"domain": [-0.0497, 1.049], "nice": false, "zero": false}, "axis": {"values": [0, 0.25, 0.5, 0.75, 1], "format": ".2f"}}, "color": {"field": "g", "type": "nominal", "scale": {"domain": ["0", "1"], "range": ["#2060AE", "#E61E55"]}, "legend": null}}},
                {"data": {"name": "med"}, "transform": [{"filter": "datum.p == 'BRCA1' && datum.g == '0'"}], "mark": {"type": "rule", "color": "#555555", "strokeWidth": 0.8, "strokeDash": [3, 2]}, "encoding": {"x": {"field": "t0", "type": "quantitative", "title": "Time"}, "x2": {"field": "t"}, "y": {"field": "s", "type": "quantitative", "title": "Survival probability"}}},
                {"data": {"name": "cens"}, "transform": [{"filter": "datum.p == 'BRCA1'"}], "mark": {"type": "point", "shape": "M-1,-1L1,1M-1,1L1,-1", "size": 18, "strokeWidth": 1.2, "filled": false, "opacity": 1}, "encoding": {"x": {"field": "t", "type": "quantitative", "title": "Time"}, "y": {"field": "s", "type": "quantitative", "title": "Survival probability"}, "color": {"field": "g", "type": "nominal", "legend": null}}},
                {"data": {"name": "med"}, "transform": [{"filter": "datum.p == 'BRCA1'"}], "mark": {"type": "rule", "color": "#222222", "strokeWidth": 1}, "encoding": {"x": {"field": "t", "type": "quantitative", "title": "Time"}, "y": {"field": "s", "type": "quantitative", "title": "Survival probability"}, "y2": {"field": "s0"}}},
                {"data": {"name": "med"}, "transform": [{"filter": "datum.p == 'BRCA1'"}], "mark": {"type": "point", "shape": "M-1,-2L0,0L1,-2", "size": 64, "strokeWidth": 1, "filled": false, "opacity": 1, "color": "#222222"}, "encoding": {"x": {"field": "t", "type": "quantitative", "title": "Time"}, "y": {"field": "s0", "type": "quantitative", "title": "Survival probability"}}},
                {"data": {"name": "leg"}, "transform": [{"filter": "datum.p == 'BRCA1'"}], "mark": {"type": "point", "shape": "M0,-1L0,1M-0.87,-0.5L0.87,0.5M-0.87,0.5L0.87,-0.5", "size": 95, "strokeWidth": 2.6, "filled": false, "opacity": 1}, "encoding": {"x": {"field": "t", "type": "quantitative", "title": "Time"}, "y": {"field": "s", "type": "quantitative", "title": "Survival probability"}, "color": {"field": "g", "type": "nominal", "legend": null}}},
                {"data": {"name": "leg"}, "transform": [{"filter": "datum.p == 'BRCA1'"}], "mark": {"type": "text", "fontSize": 22, "color": "#3d3d3d", "align": "center", "baseline": "middle"}, "encoding": {"x": {"field": "lt", "type": "quantitative", "title": "Time"}, "y": {"field": "s", "type": "quantitative", "title": "Survival probability"}, "text": {"field": "g"}}},
                {"data": {"name": "info"}, "transform": [{"filter": "datum.p == 'BRCA1'"}], "mark": {"type": "text", "fontSize": 28.5, "color": "#3d3d3d", "align": "left", "baseline": "middle"}, "encoding": {"x": {"field": "t", "type": "quantitative", "title": "Time"}, "y": {"field": "s", "type": "quantitative", "title": "Survival probability"}, "text": {"field": "prefix"}}},
                {"data": {"name": "info"}, "transform": [{"filter": "datum.p == 'BRCA1'"}], "mark": {"type": "text", "fontSize": 28.5, "fontStyle": "italic", "color": "#3d3d3d", "align": "left", "baseline": "middle", "dx": 51}, "encoding": {"x": {"field": "t", "type": "quantitative", "title": "Time"}, "y": {"field": "s", "type": "quantitative", "title": "Survival probability"}, "text": {"field": "gene"}}},
                {"data": {"name": "info"}, "transform": [{"filter": "datum.p == 'BRCA1'"}], "mark": {"type": "text", "fontSize": 10, "color": "#000000", "align": "left", "baseline": "middle"}, "encoding": {"x": {"field": "pt", "type": "quantitative", "title": "Time"}, "y": {"field": "ps", "type": "quantitative", "title": "Survival probability"}, "text": {"field": "pval"}}}
              ]
            },
            {
              "width": 507.9, "height": 336.9,
              "layer": [
                {"data": {"name": "km"}, "transform": [{"filter": "datum.p == 'MET'"}], "mark": {"type": "line", "interpolate": "step-after", "strokeWidth": 1.9}, "encoding": {"x": {"field": "t", "type": "quantitative", "title": "Time", "scale": {"domain": [-20.4, 424], "nice": false, "zero": false}, "axis": {"values": [0, 100, 200, 300, 400], "format": "d"}}, "y": {"field": "s", "type": "quantitative", "title": "Survival probability", "scale": {"domain": [-0.05, 1.0558], "nice": false, "zero": false}, "axis": {"values": [0, 0.25, 0.5, 0.75, 1], "format": ".2f"}}, "color": {"field": "g", "type": "nominal", "scale": {"domain": ["0", "1"], "range": ["#2060AE", "#E61E55"]}, "legend": null}}},
                {"data": {"name": "med"}, "transform": [{"filter": "datum.p == 'MET' && datum.g == '0'"}], "mark": {"type": "rule", "color": "#555555", "strokeWidth": 0.8, "strokeDash": [3, 2]}, "encoding": {"x": {"field": "t0", "type": "quantitative", "title": "Time"}, "x2": {"field": "t"}, "y": {"field": "s", "type": "quantitative", "title": "Survival probability"}}},
                {"data": {"name": "cens"}, "transform": [{"filter": "datum.p == 'MET'"}], "mark": {"type": "point", "shape": "M-1,-1L1,1M-1,1L1,-1", "size": 18, "strokeWidth": 1.2, "filled": false, "opacity": 1}, "encoding": {"x": {"field": "t", "type": "quantitative", "title": "Time"}, "y": {"field": "s", "type": "quantitative", "title": "Survival probability"}, "color": {"field": "g", "type": "nominal", "legend": null}}},
                {"data": {"name": "med"}, "transform": [{"filter": "datum.p == 'MET'"}], "mark": {"type": "rule", "color": "#222222", "strokeWidth": 1}, "encoding": {"x": {"field": "t", "type": "quantitative", "title": "Time"}, "y": {"field": "s", "type": "quantitative", "title": "Survival probability"}, "y2": {"field": "s0"}}},
                {"data": {"name": "med"}, "transform": [{"filter": "datum.p == 'MET'"}], "mark": {"type": "point", "shape": "M-1,-2L0,0L1,-2", "size": 64, "strokeWidth": 1, "filled": false, "opacity": 1, "color": "#222222"}, "encoding": {"x": {"field": "t", "type": "quantitative", "title": "Time"}, "y": {"field": "s0", "type": "quantitative", "title": "Survival probability"}}},
                {"data": {"name": "leg"}, "transform": [{"filter": "datum.p == 'MET'"}], "mark": {"type": "point", "shape": "M0,-1L0,1M-0.87,-0.5L0.87,0.5M-0.87,0.5L0.87,-0.5", "size": 95, "strokeWidth": 2.6, "filled": false, "opacity": 1}, "encoding": {"x": {"field": "t", "type": "quantitative", "title": "Time"}, "y": {"field": "s", "type": "quantitative", "title": "Survival probability"}, "color": {"field": "g", "type": "nominal", "legend": null}}},
                {"data": {"name": "leg"}, "transform": [{"filter": "datum.p == 'MET'"}], "mark": {"type": "text", "fontSize": 22, "color": "#3d3d3d", "align": "center", "baseline": "middle"}, "encoding": {"x": {"field": "lt", "type": "quantitative", "title": "Time"}, "y": {"field": "s", "type": "quantitative", "title": "Survival probability"}, "text": {"field": "g"}}},
                {"data": {"name": "info"}, "transform": [{"filter": "datum.p == 'MET'"}], "mark": {"type": "text", "fontSize": 28.5, "color": "#3d3d3d", "align": "left", "baseline": "middle"}, "encoding": {"x": {"field": "t", "type": "quantitative", "title": "Time"}, "y": {"field": "s", "type": "quantitative", "title": "Survival probability"}, "text": {"field": "prefix"}}},
                {"data": {"name": "info"}, "transform": [{"filter": "datum.p == 'MET'"}], "mark": {"type": "text", "fontSize": 28.5, "fontStyle": "italic", "color": "#3d3d3d", "align": "left", "baseline": "middle", "dx": 51}, "encoding": {"x": {"field": "t", "type": "quantitative", "title": "Time"}, "y": {"field": "s", "type": "quantitative", "title": "Survival probability"}, "text": {"field": "gene"}}},
                {"data": {"name": "info"}, "transform": [{"filter": "datum.p == 'MET'"}], "mark": {"type": "text", "fontSize": 10, "color": "#000000", "align": "left", "baseline": "middle"}, "encoding": {"x": {"field": "pt", "type": "quantitative", "title": "Time"}, "y": {"field": "ps", "type": "quantitative", "title": "Survival probability"}, "text": {"field": "pval"}}}
              ]
            }
          ]
        }
      ]
    }
  ]
}
